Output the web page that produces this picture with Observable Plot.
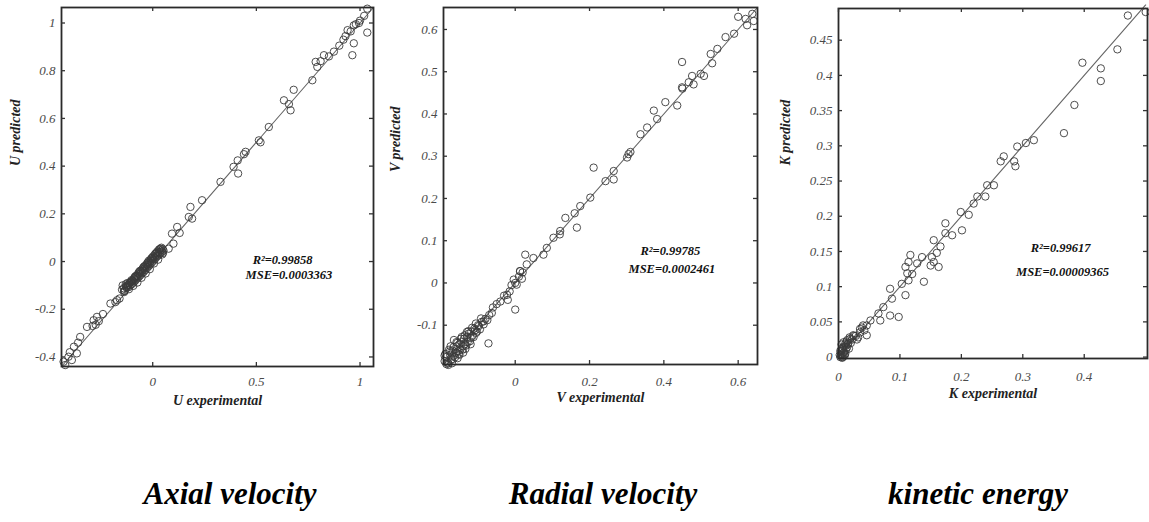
<!DOCTYPE html>
<html><head><meta charset="utf-8">
<script src="https://cdn.jsdelivr.net/npm/d3@7"></script>
<script src="https://cdn.jsdelivr.net/npm/@observablehq/plot@0.6"></script>
<style>
body{margin:0;background:#fff;width:1149px;height:522px;overflow:hidden;position:relative;}
.panel{position:absolute;top:0;}
.title{position:absolute;top:476px;width:300px;text-align:center;font:italic bold 31px "Liberation Serif",serif;color:#000;}
</style></head>
<body>
<div id="p1" class="panel" style="left:0px"></div>
<div id="p2" class="panel" style="left:383px"></div>
<div id="p3" class="panel" style="left:766px"></div>
<div class="title" style="left:80px">Axial velocity</div>
<div class="title" style="left:453px">Radial velocity</div>
<div class="title" style="left:828px">kinetic energy</div>
<script>
// ---------- Panel 1: axial velocity ----------
const uExp = [1.035,1.02,1.00,0.995,0.98,0.97,0.955,0.94,0.93,1.035,0.97,0.963,0.92,0.90,0.874,0.85,0.826,0.81,0.786,0.794,0.77,0.68,0.633,0.665,0.657,0.56,0.512,0.52,0.448,0.44,0.41,0.412,0.39,0.327,0.238,0.182,0.174,0.19,0.118,0.093,0.10,0.077,0.13,
 -0.172,-0.204,-0.16,-0.269,-0.285,-0.275,-0.26,-0.317,-0.35,-0.38,-0.366,-0.406,-0.422,-0.39,-0.36,-0.40,-0.43,-0.29,-0.24,-0.18,
 -0.148,-0.140,-0.135,-0.130,-0.126,-0.120,-0.118,-0.112,-0.108,-0.104,-0.100,-0.096,-0.092,-0.088,-0.084,-0.080,-0.076,-0.072,-0.068,-0.064,-0.060,-0.056,-0.052,-0.048,-0.044,-0.040,-0.036,-0.032,-0.028,-0.024,-0.020,-0.016,-0.012,-0.008,-0.004,0.000,0.004,0.008,0.012,0.016,0.020,0.024,0.028,0.032,0.036,0.040,0.044,0.048,0.052,0.030,0.010,-0.010,-0.030,-0.050,-0.070,-0.090,-0.110,-0.130,
 -0.145,-0.137,-0.122,-0.115,-0.102,-0.094,-0.083,-0.074,-0.062,-0.054,-0.043,-0.034,-0.022,-0.014,-0.002,0.006,0.018,0.026,0.038,0.046,0.050,0.042,0.022,0.002,-0.018,-0.038,-0.058,-0.078,-0.098,-0.118,-0.138,0.034,0.014,-0.006,-0.026,-0.046,-0.066,-0.086,-0.106,-0.126];
const uPred = [1.06,1.03,1.01,1.0,0.995,0.99,0.965,0.97,0.945,0.96,0.915,0.865,0.93,0.905,0.88,0.86,0.865,0.84,0.837,0.816,0.76,0.72,0.676,0.634,0.66,0.564,0.508,0.50,0.46,0.45,0.424,0.369,0.397,0.334,0.257,0.229,0.187,0.18,0.145,0.117,0.075,0.054,0.12,
 -0.162,-0.176,-0.155,-0.232,-0.246,-0.265,-0.25,-0.274,-0.316,-0.357,-0.385,-0.399,-0.434,-0.413,-0.34,-0.38,-0.42,-0.27,-0.22,-0.17,
 -0.118,-0.112,-0.122,-0.105,-0.110,-0.098,-0.108,-0.092,-0.100,-0.086,-0.094,-0.080,-0.088,-0.074,-0.080,-0.066,-0.072,-0.060,-0.066,-0.052,-0.058,-0.046,-0.050,-0.038,-0.044,-0.030,-0.036,-0.022,-0.028,-0.014,-0.020,-0.006,-0.012,0.002,-0.004,0.010,0.004,0.018,0.012,0.024,0.020,0.032,0.026,0.040,0.034,0.046,0.040,0.052,0.046,0.050,0.030,0.008,-0.012,-0.032,-0.050,-0.070,-0.090,-0.095,
 -0.100,-0.124,-0.090,-0.116,-0.078,-0.102,-0.062,-0.088,-0.040,-0.068,-0.022,-0.050,-0.002,-0.032,0.016,-0.008,0.036,0.008,0.054,0.030,0.036,0.058,0.042,0.022,0.004,-0.018,-0.038,-0.058,-0.080,-0.098,-0.128,0.052,0.034,0.014,-0.006,-0.026,-0.044,-0.064,-0.084,-0.106];
const uDomain = [-0.44, 1.065];
const uXTicks = [0, 0.5, 1];
const uYTicks = [-0.4, -0.2, 0, 0.2, 0.4, 0.6, 0.8, 1];

// ---------- Panel 2: radial velocity ----------
const vExp = [0.638,0.62,0.60,0.624,0.642,0.589,0.566,0.544,0.526,0.449,0.499,0.508,0.476,0.467,0.449,0.436,0.404,0.373,0.382,0.355,0.337,0.305,0.301,0.265,0.265,0.211,0.243,0.202,0.175,0.166,0.135,0.121,0.103,0.085,0.076,0.049,0.027,0.031,0.013,
 -0.05,-0.04,-0.03,-0.022,-0.015,-0.01,0.0,-0.004,0.004,0.01,0.013,0.02,0.018,0.0,-0.02,-0.063,-0.072,-0.085,-0.103,
 -0.19,-0.185,-0.18,-0.175,-0.17,-0.168,-0.165,-0.16,-0.158,-0.155,-0.15,-0.148,-0.145,-0.14,-0.138,-0.135,-0.13,-0.128,-0.125,-0.12,-0.118,-0.115,-0.11,-0.105,-0.10,-0.095,-0.09,-0.085,-0.08,-0.075,-0.07,-0.165,-0.178,-0.185,-0.155,-0.14,-0.12,
 -0.188,-0.182,-0.176,-0.172,-0.166,-0.162,-0.156,-0.152,-0.146,-0.142,-0.136,-0.132,-0.126,-0.122,-0.116,-0.112,-0.106,-0.098,-0.092,-0.174,-0.158,-0.144,-0.13,-0.18,-0.19,-0.17,-0.15,-0.134,-0.108,-0.06,0.45,0.48,0.53,0.31,0.16,0.12];
const vPred = [0.637,0.625,0.63,0.61,0.62,0.59,0.582,0.554,0.542,0.523,0.495,0.49,0.49,0.475,0.463,0.42,0.428,0.408,0.388,0.368,0.352,0.305,0.297,0.265,0.245,0.273,0.241,0.202,0.182,0.131,0.154,0.123,0.107,0.083,0.067,0.059,0.067,0.044,0.028,
 -0.05,-0.044,-0.03,-0.028,-0.02,-0.005,0.0,0.008,-0.004,0.015,0.028,0.025,0.01,-0.063,-0.04,-0.071,-0.143,-0.091,-0.115,
 -0.185,-0.175,-0.19,-0.17,-0.18,-0.16,-0.172,-0.165,-0.15,-0.162,-0.145,-0.158,-0.14,-0.15,-0.132,-0.145,-0.128,-0.14,-0.12,-0.13,-0.115,-0.125,-0.108,-0.118,-0.10,-0.11,-0.092,-0.098,-0.085,-0.088,-0.076,-0.135,-0.158,-0.192,-0.178,-0.165,-0.145,
 -0.168,-0.188,-0.162,-0.182,-0.152,-0.176,-0.142,-0.168,-0.132,-0.158,-0.124,-0.148,-0.114,-0.138,-0.106,-0.128,-0.096,-0.102,-0.084,-0.15,-0.14,-0.128,-0.116,-0.194,-0.172,-0.19,-0.17,-0.156,-0.112,-0.058,0.46,0.47,0.52,0.31,0.165,0.115];
const vDomain = [-0.193, 0.652];
const vXTicks = [0, 0.2, 0.4, 0.6];
const vYTicks = [-0.1, 0, 0.1, 0.2, 0.3, 0.4, 0.5, 0.6];

// ---------- Panel 3: kinetic energy ----------
const kExp = [0.471,0.454,0.427,0.427,0.397,0.384,0.367,0.318,0.305,0.291,0.288,0.286,0.264,0.269,0.253,0.242,0.239,0.226,0.22,0.212,0.199,0.201,0.185,0.174,0.174,0.166,0.163,0.155,0.155,0.152,0.15,0.136,0.128,0.117,0.114,0.109,0.112,0.114,0.139,0.109,0.103,0.084,0.087,0.073,0.065,0.098,0.084,0.068,0.052,0.046,0.035,0.046,0.024,0.019,0.011,0.014,
 0.003,0.005,0.006,0.008,0.004,0.01,0.007,0.012,0.009,0.002,0.011,0.014,0.006,0.016,0.005,0.013,0.02,0.018,0.022,0.028,0.03,0.035,0.04,0.042,
 0.004,0.007,0.009,0.003,0.012,0.006,0.01,0.015,0.008,0.017,0.025,0.032,0.038,0.5,0.16,0.12];
const kPred = [0.485,0.437,0.41,0.392,0.418,0.358,0.318,0.308,0.304,0.299,0.271,0.278,0.278,0.285,0.244,0.244,0.228,0.228,0.218,0.202,0.206,0.18,0.173,0.19,0.176,0.157,0.128,0.166,0.135,0.142,0.13,0.142,0.133,0.145,0.135,0.128,0.119,0.109,0.107,0.088,0.104,0.097,0.083,0.071,0.062,0.057,0.059,0.052,0.052,0.045,0.04,0.031,0.031,0.026,0.019,0.024,
 0.0,0.004,-0.001,0.006,0.008,0.002,0.012,0.01,0.015,0.003,0.005,0.014,0.01,0.02,0.018,0.022,0.02,0.028,0.025,0.03,0.025,0.035,0.045,0.038,
 0.002,0.0,0.007,0.009,0.016,0.013,0.004,0.018,0.021,0.012,0.03,0.028,0.042,0.49,0.148,0.118];
const kXDomain = [0, 0.503];
const kYDomain = [-0.002, 0.495];
const kXTicks = [0, 0.1, 0.2, 0.3, 0.4];
const kYTicks = [0, 0.05, 0.1, 0.15, 0.2, 0.25, 0.3, 0.35, 0.4, 0.45];

const fmt = d => String(d);

function panel(o) {
  const data = o.xs.map((x, i) => ({x, y: o.ys[i]}));
  const fitLine = o.fit.map(v => ({x: v, y: v}));
  const fw = 383 - o.ml - o.mr, fh = 420 - o.mt - o.mb;
  const tickFont = {fontFamily: "Liberation Serif", fontStyle: "italic", fontSize: 13, fill: "#4a4a4a"};
  const bi = {fontFamily: "Liberation Serif", fontWeight: "bold", fontStyle: "italic"};
  return Plot.plot({
    width: 383, height: 420,
    marginLeft: o.ml, marginRight: o.mr, marginTop: o.mt, marginBottom: o.mb,
    style: {fontFamily: "Liberation Serif", background: "#fff", overflow: "visible"},
    x: {domain: o.xDomain, nice: false},
    y: {domain: o.yDomain, nice: false},
    marks: [
      Plot.line(fitLine, {x: "x", y: "y", stroke: "#666", strokeWidth: 1.1}),
      Plot.dot(data, {x: "x", y: "y", r: 3.7, stroke: "#3a3a3a", strokeWidth: 0.9, fill: "none"}),
      Plot.frame({stroke: "#2a2a2a", strokeWidth: 1.8}),
      Plot.tickX(o.xTicks, {x: d => d, insetTop: fh - 4, stroke: "#333", strokeWidth: 1.3}),
      Plot.tickX(o.xTicks, {x: d => d, insetBottom: fh - 4, stroke: "#333", strokeWidth: 1.3}),
      Plot.tickY(o.yTicks, {y: d => d, insetRight: fw - 4, stroke: "#333", strokeWidth: 1.3}),
      Plot.tickY(o.yTicks, {y: d => d, insetLeft: fw - 4, stroke: "#333", strokeWidth: 1.3}),
      Plot.axisX({ticks: o.xTicks, tickFormat: fmt, tickSize: 0, tickPadding: o.xPad, label: null, ...tickFont}),
      Plot.axisY({ticks: o.yTicks, tickFormat: fmt, tickSize: 0, tickPadding: 6, label: null, ...tickFont}),
      Plot.text([o.xLabel], {frameAnchor: "bottom", dy: o.xTitleDy, fontSize: 14, fill: "#222", ...bi}),
      Plot.text([o.yLabel], {frameAnchor: "left", rotate: -90, dx: o.yTitleDx, dy: o.yTitleDy, fontSize: 14, fill: "#222", ...bi}),
      Plot.text([o.r2], {x: o.annX1, y: o.annY1, textAnchor: "start", fontSize: 12.5, fill: "#111", ...bi}),
      Plot.text([o.mse], {x: o.annX2, y: o.annY2, textAnchor: "start", fontSize: 12.5, fill: "#111", ...bi})
    ]
  });
}

document.getElementById("p1").append(panel({
  xs: uExp, ys: uPred, xDomain: uDomain, yDomain: uDomain, fit: uDomain,
  xTicks: uXTicks, yTicks: uYTicks, ml: 61, mr: 10, mt: 7, mb: 54, xPad: 10, xTitleDy: 38,
  xLabel: "U experimental", yLabel: "U predicted", yTitleDx: -46, yTitleDy: -21,
  r2: "R²=0.99858", mse: "MSE=0.0003363", annX1: 0.482, annY1: 0.006, annX2: 0.448, annY2: -0.057
}));
document.getElementById("p2").append(panel({
  xs: vExp, ys: vPred, xDomain: vDomain, yDomain: vDomain, fit: vDomain,
  xTicks: vXTicks, yTicks: vYTicks, ml: 60, mr: 9, mt: 7, mb: 56, xPad: 12, xTitleDy: 37,
  xLabel: "V experimental", yLabel: "V predicted", yTitleDx: -48, yTitleDy: -14,
  r2: "R²=0.99785", mse: "MSE=0.0002461", annX1: 0.337, annY1: 0.076, annX2: 0.305, annY2: 0.033
}));
document.getElementById("p3").append(panel({
  xs: kExp, ys: kPred, xDomain: kXDomain, yDomain: kYDomain, fit: [0, 0.5],
  xTicks: kXTicks, yTicks: kYTicks, ml: 72, mr: 2, mt: 8, mb: 62, xPad: 13, xTitleDy: 39,
  xLabel: "K experimental", yLabel: "K predicted", yTitleDx: -53, yTitleDy: -18,
  r2: "R²=0.99617", mse: "MSE=0.00009365", annX1: 0.313, annY1: 0.155, annX2: 0.289, annY2: 0.121
}));
</script>
</body></html>
